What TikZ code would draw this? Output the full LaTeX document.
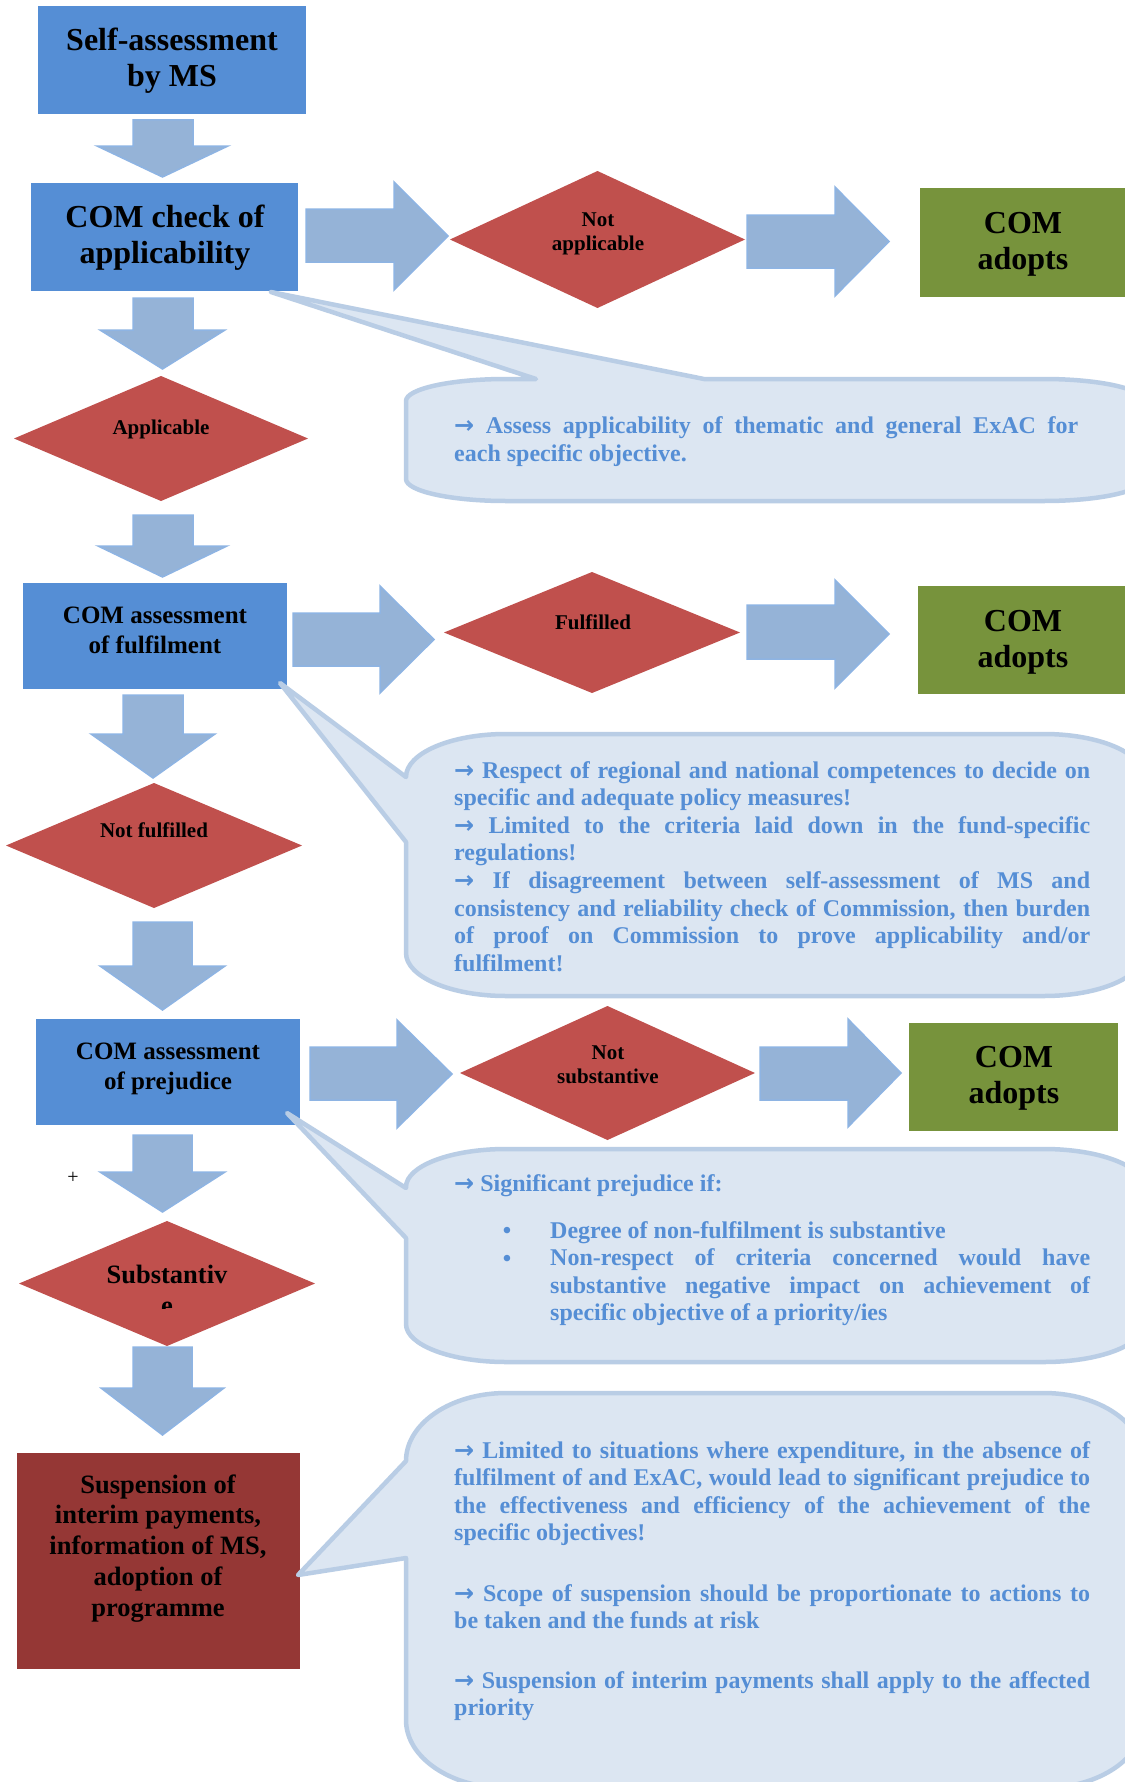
\documentclass[tikz,border=0pt]{standalone}
\usepackage{fontspec}
\setmainfont{Liberation Serif}
\newfontfamily\arrfont{DejaVu Sans}
\definecolor{boxblue}{HTML}{558ED5}
\definecolor{arrowfill}{HTML}{95B3D7}
\definecolor{arrowline}{HTML}{8EB4E3}
\definecolor{diared}{HTML}{C0504D}
\definecolor{adoptgreen}{HTML}{77933C}
\definecolor{suspred}{HTML}{953735}
\definecolor{callfill}{HTML}{DCE6F2}
\definecolor{callline}{HTML}{B9CDE5}
\definecolor{calltext}{HTML}{558ED5}
\newcommand\myar{{\arrfont\bfseries →}}
\newcommand\jl[2]{\makebox[#1][s]{#2}}
\newcommand\mydarrow[7]{\path[blockarrow] (#1,#3) -- (#2,#3) -- (#2,#4) -- (#6,#4) -- ({(#5+#6)/2},#7) -- (#5,#4) -- (#1,#4) -- cycle;}
\newcommand\myrarrow[7]{\path[blockarrow] (#1,#3) -- (#2,#3) -- (#2,#5) -- (#7,{(#5+#6)/2}) -- (#2,#6) -- (#2,#4) -- (#1,#4) -- cycle;}
\newcommand\mydiam[4]{\fill[diared] (#1,{(#3+#4)/2}) -- ({(#1+#2)/2},#3) -- (#2,{(#3+#4)/2}) -- ({(#1+#2)/2},#4) -- cycle;}
\begin{document}
\begin{tikzpicture}[x=1pt,y=-1pt,
 blockarrow/.style={fill=arrowfill,draw=arrowline,line width=1.5pt,line join=miter},
 rectbox/.style={inner sep=0pt,outer sep=0pt,draw=none},
 callout/.style={fill=callfill,draw=callline,line width=4.5pt,line join=round},
 bigtxt/.style={font=\bfseries\fontsize{32}{36}\selectfont,align=center,inner sep=0pt,anchor=base},
 midtxt/.style={font=\bfseries\fontsize{25}{30}\selectfont,align=center,inner sep=0pt,anchor=base},
 susptxt/.style={font=\bfseries\fontsize{26.5}{30.7}\selectfont,align=center,inner sep=0pt,anchor=base},
 diatxt/.style={font=\bfseries\fontsize{21}{24.5}\selectfont,align=center,inner sep=0pt,anchor=base},
 calltxt/.style={text=calltext,font=\bfseries\fontsize{24}{27.6}\selectfont,align=left,inner sep=0pt,anchor=base west},
]
\useasboundingbox (0,0) rectangle (1124,1782);
\fill[white] (0,0) rectangle (1124,1782);

% ---------- boxes ----------
\node[rectbox,fill=boxblue,minimum width=268pt,minimum height=108pt] (b1) at (172,60) {};
\node[rectbox,fill=boxblue,minimum width=267pt,minimum height=108pt] (b2) at (164.5,237) {};
\node[rectbox,fill=boxblue,minimum width=264pt,minimum height=106pt] (b3) at (155,636) {};
\node[rectbox,fill=boxblue,minimum width=264pt,minimum height=106pt] (b4) at (168,1072) {};
\node[rectbox,fill=suspred,minimum width=283pt,minimum height=216pt] (b5) at (158.5,1561) {};
\node[rectbox,fill=adoptgreen,minimum width=215pt,minimum height=109pt] (g1) at (1027.5,242.5) {};
\node[rectbox,fill=adoptgreen,minimum width=217pt,minimum height=108pt] (g2) at (1026.5,640) {};
\node[rectbox,fill=adoptgreen,minimum width=209pt,minimum height=108pt] (g3) at (1013.5,1077) {};

% ---------- diamonds ----------
\mydiam{450}{745}{171}{308}
\mydiam{14}{308}{376}{501}
\mydiam{444}{740}{572}{693}
\mydiam{6}{302}{783}{908}
\mydiam{460}{755}{1006}{1140}
\mydiam{19}{315}{1221}{1346}

% ---------- block arrows ----------
\mydarrow{133}{193}{120}{146}{97}{228}{177}
\mydarrow{133}{193}{298}{330}{100}{225}{369}
\mydarrow{133}{193}{515}{546}{98}{227}{577}
\mydarrow{123}{183}{695}{734}{91}{215}{778}
\mydarrow{133}{192}{922}{966}{100}{225}{1010}
\mydarrow{133}{192}{1135}{1172}{100}{225}{1212}
\mydarrow{133}{192}{1347}{1388}{101}{224}{1435}
\myrarrow{306}{394}{209}{262}{182}{290}{448}
\myrarrow{747}{835}{215}{268}{187}{296}{889}
\myrarrow{293}{380}{613}{666}{586}{693}{434}
\myrarrow{747}{835}{605}{659}{580}{688}{889}
\myrarrow{310}{397}{1047}{1100}{1020}{1128}{452}
\myrarrow{760}{848}{1047}{1100}{1019}{1127}{901}

% ---------- box texts (base = last line) ----------
\node[bigtxt] (b1t) at (172,87) {Self-assessment\\by MS};
\node[bigtxt] (b2t) at (165,263) {COM check of\\applicability};
\node[midtxt] (b3t) at (155,653) {COM assessment\\of fulfilment};
\node[midtxt] (b4t) at (168,1089) {COM assessment\\of prejudice};
\node[susptxt] (b5t) at (158,1616) {Suspension of\\interim payments,\\information of MS,\\adoption of\\programme};
\node[bigtxt] (g1t) at (1023,269) {COM\\adopts};
\node[bigtxt] (g2t) at (1023,667) {COM\\adopts};
\node[bigtxt] (g3t) at (1014,1103) {COM\\adopts};

% ---------- diamond texts ----------
\node[diatxt] (d1t) at (598,250.5) {Not\\applicable};
\node[diatxt] (d2t) at (161,434) {Applicable};
\node[diatxt] (d3t) at (593,629) {Fulfilled};
\node[diatxt] (d4t) at (154,837) {Not fulfilled};
\node[diatxt] (d5t) at (608,1083.5) {Not\\substantive};
\node[font=\bfseries\fontsize{26.5}{30.5}\selectfont,inner sep=0pt,anchor=base] (d6t) at (167,1283) {Substantiv};
\begin{scope}
\clip (100,1290) rectangle (240,1308);
\node[font=\bfseries\fontsize{26.5}{30.5}\selectfont,inner sep=0pt,anchor=base] (d6e) at (167,1314) {e};
\end{scope}
\node[font=\fontsize{20}{24}\selectfont,inner sep=0pt] (plus) at (73,1178) {+};

% ---------- callouts ----------
\path[callout] (536,379) -- (271,292) -- (704,379) -- (1044,379)
  arc[start angle=-90,end angle=0,x radius=100,y radius=22] -- (1144,479)
  arc[start angle=0,end angle=90,x radius=100,y radius=22] -- (506,501)
  arc[start angle=90,end angle=180,x radius=100,y radius=22] -- (406,401)
  arc[start angle=180,end angle=270,x radius=100,y radius=22] -- cycle;
\path[callout] (406,777) -- (280,683) -- (406,842) -- (406,953)
  arc[start angle=180,end angle=90,x radius=100,y radius=43] -- (1044,996)
  arc[start angle=90,end angle=0,x radius=100,y radius=43] -- (1144,777)
  arc[start angle=0,end angle=-90,x radius=100,y radius=43] -- (506,734)
  arc[start angle=270,end angle=180,x radius=100,y radius=43] -- cycle;
\path[callout] (406,1188) -- (287,1113) -- (406,1238) -- (406,1324)
  arc[start angle=180,end angle=90,x radius=100,y radius=38] -- (1044,1362)
  arc[start angle=90,end angle=0,x radius=100,y radius=38] -- (1144,1187)
  arc[start angle=0,end angle=-90,x radius=100,y radius=38] -- (506,1149)
  arc[start angle=270,end angle=180,x radius=100,y radius=38] -- cycle;
\path[callout] (406,1461) -- (298,1575) -- (406,1558) -- (406,1720)
  arc[start angle=180,end angle=90,x radius=100,y radius=68] -- (1044,1788)
  arc[start angle=90,end angle=0,x radius=100,y radius=68] -- (1144,1461)
  arc[start angle=0,end angle=-90,x radius=100,y radius=68] -- (506,1393)
  arc[start angle=270,end angle=180,x radius=100,y radius=68] -- cycle;

% ---------- callout texts (base = last line) ----------
\node[calltxt] (c1t) at (454,461) {\jl{624pt}{\myar{} Assess applicability of thematic and general ExAC for}\\each specific objective.};
\node[calltxt] (c2t) at (454,971.2) {\jl{636pt}{\myar{} Respect of regional and national competences to decide on}\\
specific and adequate policy measures!\\
\jl{636pt}{\myar{} Limited to the criteria laid down in the fund-specific}\\
regulations!\\
\jl{636pt}{\myar{} If disagreement between self-assessment of MS and}\\
\jl{636pt}{consistency and reliability check of Commission, then burden}\\
\jl{636pt}{of proof on Commission to prove applicability and/or}\\
fulfilment!};
\node[calltxt] (c3t) at (454,1191) {\myar{} Significant prejudice if:};
\node[calltxt,anchor=base] (c3b1) at (507,1238) {•};
\node[calltxt,anchor=base] (c3b2) at (507,1266) {•};
\node[calltxt] (c3l) at (550,1320.8) {Degree of non-fulfilment is substantive\\
\jl{540pt}{Non-respect of criteria concerned would have}\\
\jl{540pt}{substantive negative impact on achievement of}\\
specific objective of a priority/ies};
\node[calltxt] (c4a) at (454,1540.8) {\jl{636pt}{\myar{} Limited to situations where expenditure, in the absence of}\\
\jl{636pt}{fulfilment of and ExAC, would lead to significant prejudice to}\\
\jl{636pt}{the effectiveness and efficiency of the achievement of the}\\
specific objectives!};
\node[calltxt] (c4b) at (454,1628.6) {\jl{636pt}{\myar{} Scope of suspension should be proportionate to actions to}\\
be taken and the funds at risk};
\node[calltxt] (c4c) at (454,1715.6) {\jl{636pt}{\myar{} Suspension of interim payments shall apply to the affected}\\
priority};
\end{tikzpicture}
\end{document}
